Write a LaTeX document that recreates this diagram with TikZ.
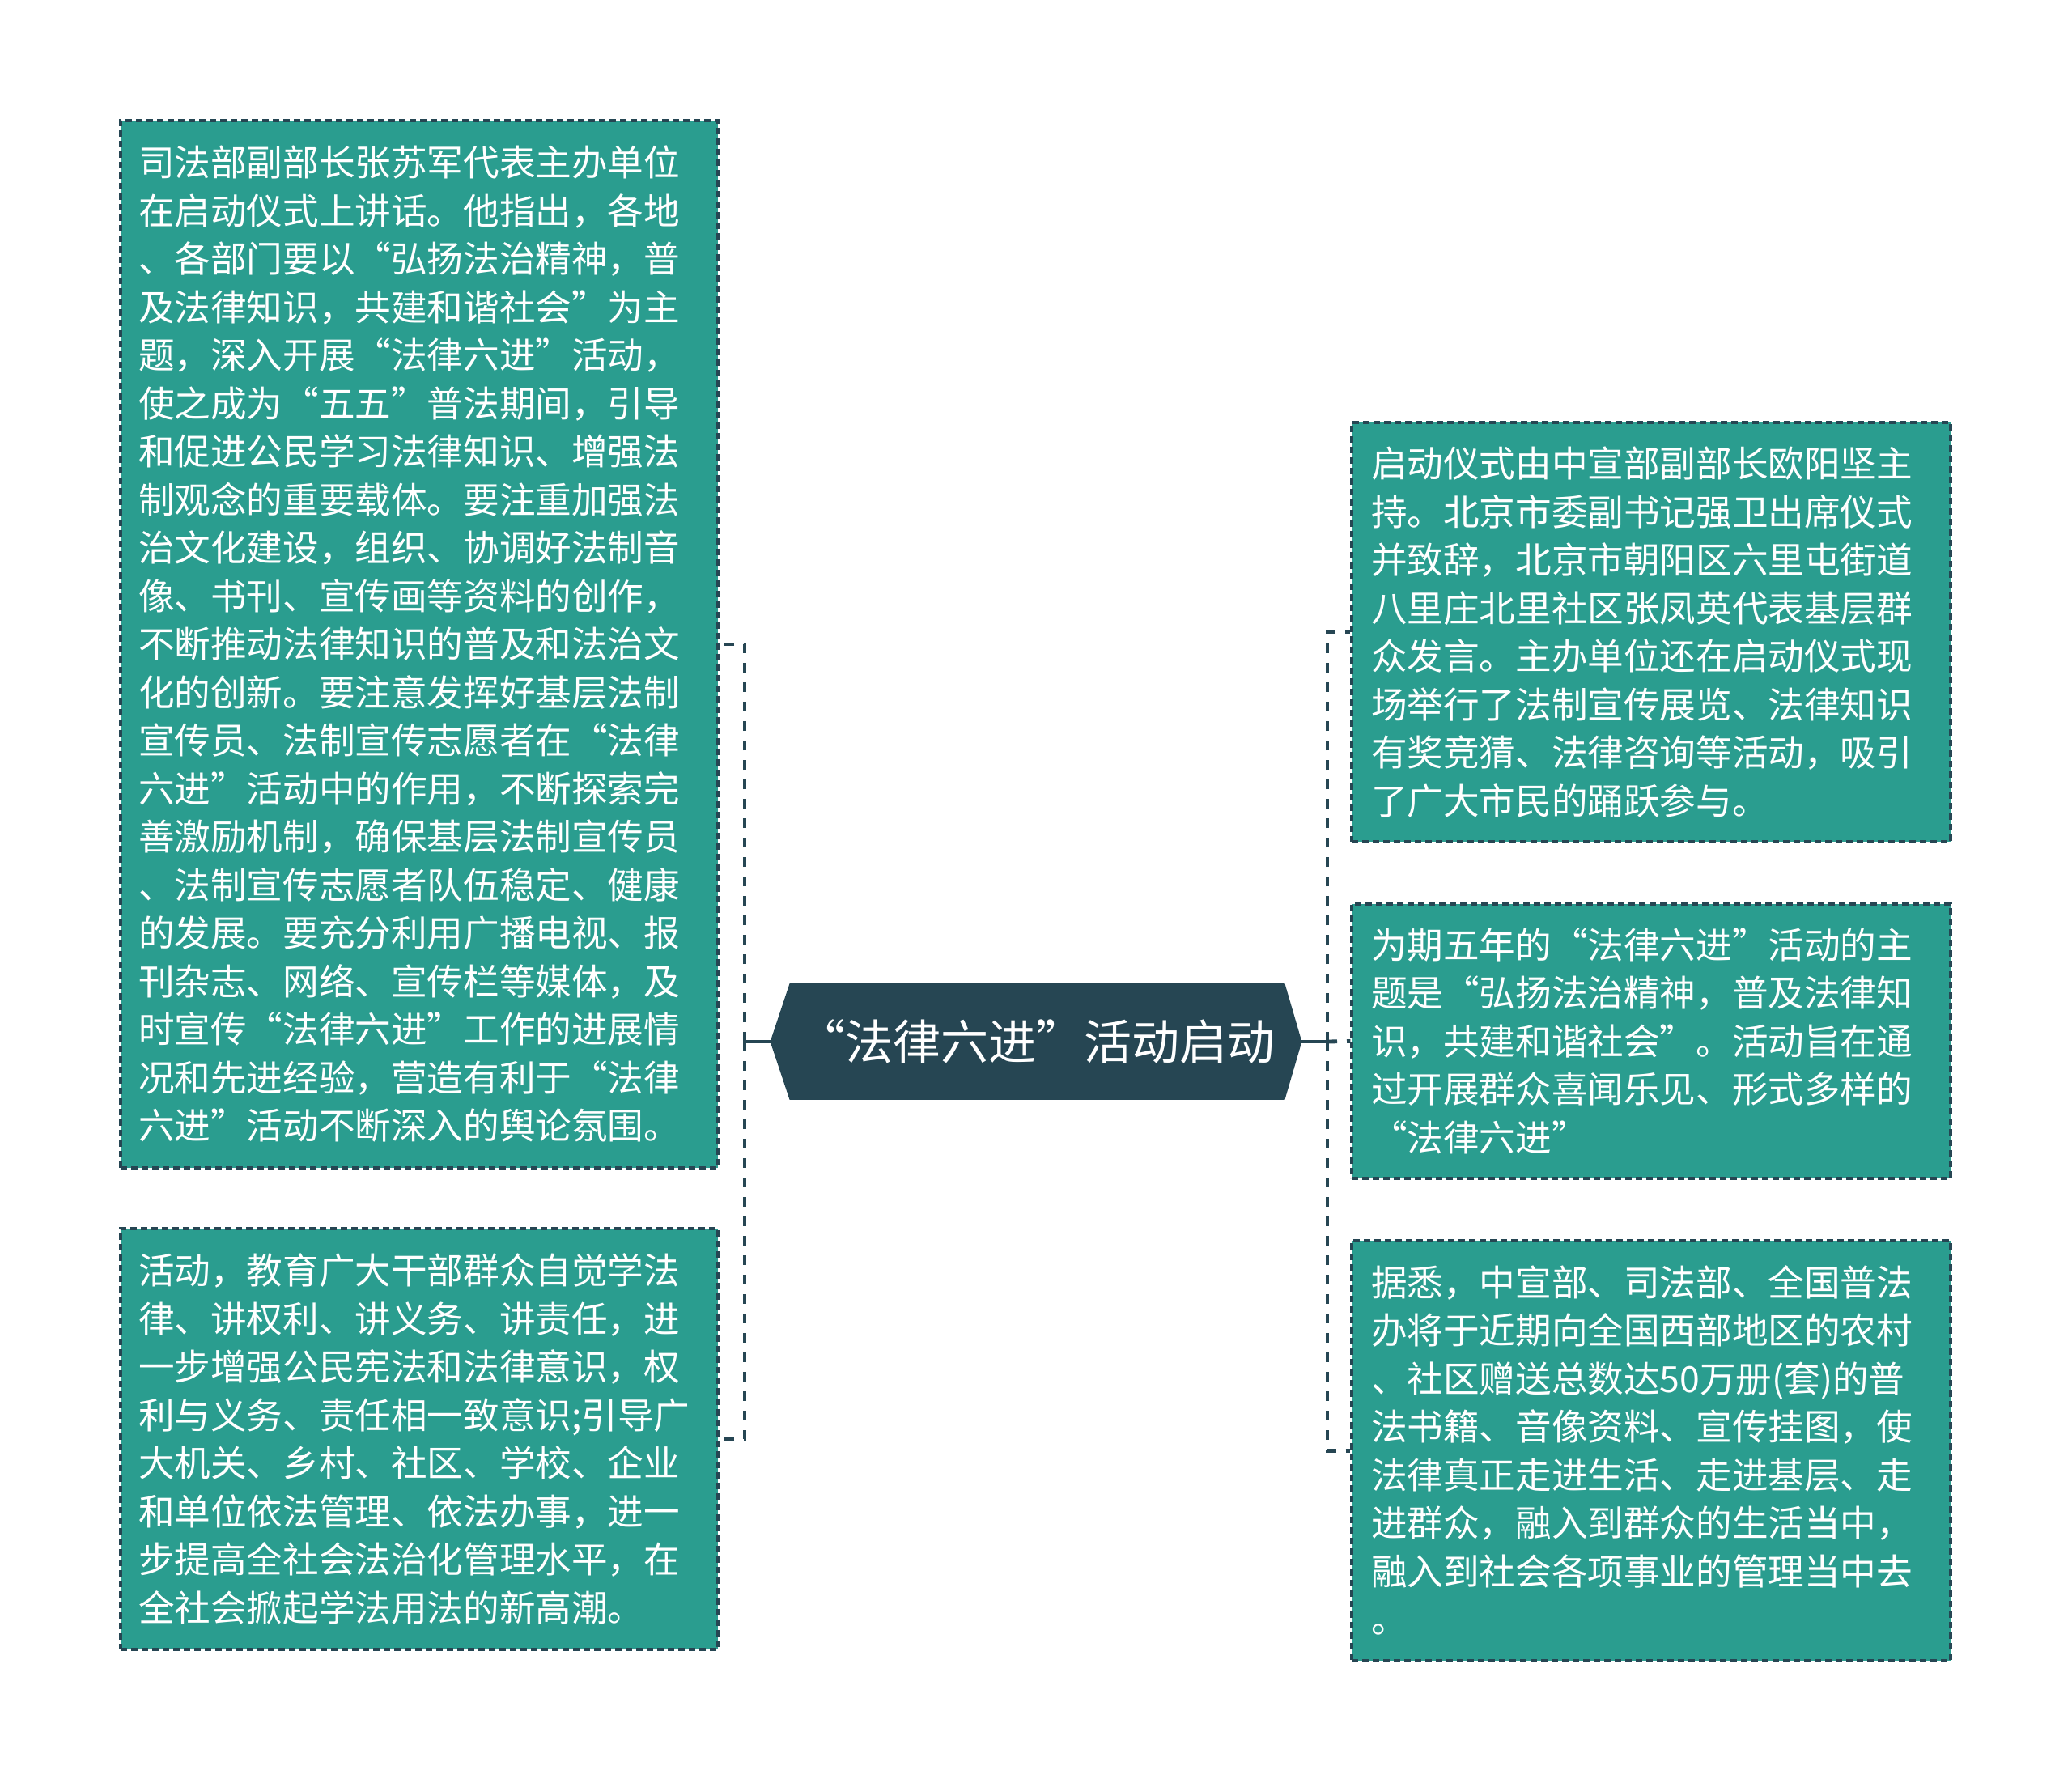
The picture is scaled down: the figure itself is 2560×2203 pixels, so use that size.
\documentclass[tikz,border=0pt]{standalone}
\usepackage{fontspec}
\newfontfamily\cjk{Noto Sans CJK SC}
\usetikzlibrary{calc}
\definecolor{teal1}{HTML}{2A9D8F}
\definecolor{dark1}{HTML}{264653}
\newcommand\lnstrut{\rule[-6.4pt]{0pt}{29.75pt}}
\tikzset{
  leafbox/.style={draw=dark1, fill=teal1, line width=1.6pt, dash pattern=on 4pt off 2.5pt,
    text=white, font=\cjk\fontsize{22.3pt}{29.75pt}\selectfont,
    text width=347pt, align=left, inner xsep=11pt, inner ysep=0pt, minimum width=369pt},
  rootbox/.style={minimum width=328pt, minimum height=71.5pt, inner sep=0pt,
    text=white, font=\cjk\fontsize{29.5pt}{34pt}\selectfont},
  solidconn/.style={draw=dark1, line width=2.4pt},
  dashconn/.style={draw=dark1, line width=2.4pt, dash pattern=on 6pt off 6pt},
}
\begin{document}
\begin{tikzpicture}[x=0.5pt,y=-0.5pt]
\fill[white] (0,0) rectangle (2560,2203);
\useasboundingbox (0,0) rectangle (2560,2203);

% central node
\node[rootbox] (root) at (1280,1287) {};
\fill[dark1] (root.west) -- ([xshift=12pt]root.north west) -- ([xshift=-10.5pt]root.north east)
  -- (root.east) -- ([xshift=-10.5pt]root.south east) -- ([xshift=12pt]root.south west) -- cycle;
\node[rootbox] (roottext) at (1280,1287) {“法律六进”活动启动};

% left boxes
\node[leafbox, minimum height=647pt] (L1) at (518,796) {%
\lnstrut 司法部副部长张苏军代表主办单位\\
\lnstrut 在启动仪式上讲话。他指出，各地\\
\lnstrut 、各部门要以“弘扬法治精神，普\\
\lnstrut 及法律知识，共建和谐社会”为主\\
\lnstrut 题，深入开展“法律六进”活动，\\
\lnstrut 使之成为“五五”普法期间，引导\\
\lnstrut 和促进公民学习法律知识、增强法\\
\lnstrut 制观念的重要载体。要注重加强法\\
\lnstrut 治文化建设，组织、协调好法制音\\
\lnstrut 像、书刊、宣传画等资料的创作，\\
\lnstrut 不断推动法律知识的普及和法治文\\
\lnstrut 化的创新。要注意发挥好基层法制\\
\lnstrut 宣传员、法制宣传志愿者在“法律\\
\lnstrut 六进”活动中的作用，不断探索完\\
\lnstrut 善激励机制，确保基层法制宣传员\\
\lnstrut 、法制宣传志愿者队伍稳定、健康\\
\lnstrut 的发展。要充分利用广播电视、报\\
\lnstrut 刊杂志、网络、宣传栏等媒体，及\\
\lnstrut 时宣传“法律六进”工作的进展情\\
\lnstrut 况和先进经验，营造有利于“法律\\
\lnstrut 六进”活动不断深入的舆论氛围。};

\node[leafbox, minimum height=260pt] (L2) at (518,1778) {%
\lnstrut 活动，教育广大干部群众自觉学法\\
\lnstrut 律、讲权利、讲义务、讲责任，进\\
\lnstrut 一步增强公民宪法和法律意识，权\\
\lnstrut 利与义务、责任相一致意识;引导广\\
\lnstrut 大机关、乡村、社区、学校、企业\\
\lnstrut 和单位依法管理、依法办事，进一\\
\lnstrut 步提高全社会法治化管理水平，在\\
\lnstrut 全社会掀起学法用法的新高潮。};

% right boxes
\node[leafbox, minimum height=259pt, minimum width=370pt, text width=346pt, inner xsep=12pt] (RA) at (2040,781) {%
\lnstrut 启动仪式由中宣部副部长欧阳坚主\\
\lnstrut 持。北京市委副书记强卫出席仪式\\
\lnstrut 并致辞，北京市朝阳区六里屯街道\\
\lnstrut 八里庄北里社区张凤英代表基层群\\
\lnstrut 众发言。主办单位还在启动仪式现\\
\lnstrut 场举行了法制宣传展览、法律知识\\
\lnstrut 有奖竞猜、法律咨询等活动，吸引\\
\lnstrut 了广大市民的踊跃参与。};

\node[leafbox, minimum height=169.5pt, minimum width=370pt, text width=346pt, inner xsep=12pt] (RB) at (2040,1286.5) {%
\lnstrut 为期五年的“法律六进”活动的主\\
\lnstrut 题是“弘扬法治精神，普及法律知\\
\lnstrut 识，共建和谐社会”。活动旨在通\\
\lnstrut 过开展群众喜闻乐见、形式多样的\\
\lnstrut “法律六进”};

\node[leafbox, minimum height=259.5pt, minimum width=370pt, text width=346pt, inner xsep=12pt] (RC) at (2040,1792.5) {%
\lnstrut 据悉，中宣部、司法部、全国普法\\
\lnstrut 办将于近期向全国西部地区的农村\\
\lnstrut 、社区赠送总数达50万册(套)的普\\
\lnstrut 法书籍、音像资料、宣传挂图，使\\
\lnstrut 法律真正走进生活、走进基层、走\\
\lnstrut 进群众，融入到群众的生活当中，\\
\lnstrut 融入到社会各项事业的管理当中去\\
\lnstrut 。};

% connectors
\coordinate (ltrunk) at (920,1287);
\coordinate (rtrunk) at (1640,1287);
\draw[solidconn] (root.west) -- (ltrunk);
\draw[solidconn] (root.east) -- (rtrunk);
\draw[dashconn] (ltrunk) |- (L1.east);
\draw[dashconn] (ltrunk) |- (L2.east);
\draw[dashconn] (rtrunk) |- (RA.west);
\draw[dashconn] (rtrunk) -- (RB.west);
\draw[dashconn] (rtrunk) |- (RC.west);
\end{tikzpicture}
\end{document}
